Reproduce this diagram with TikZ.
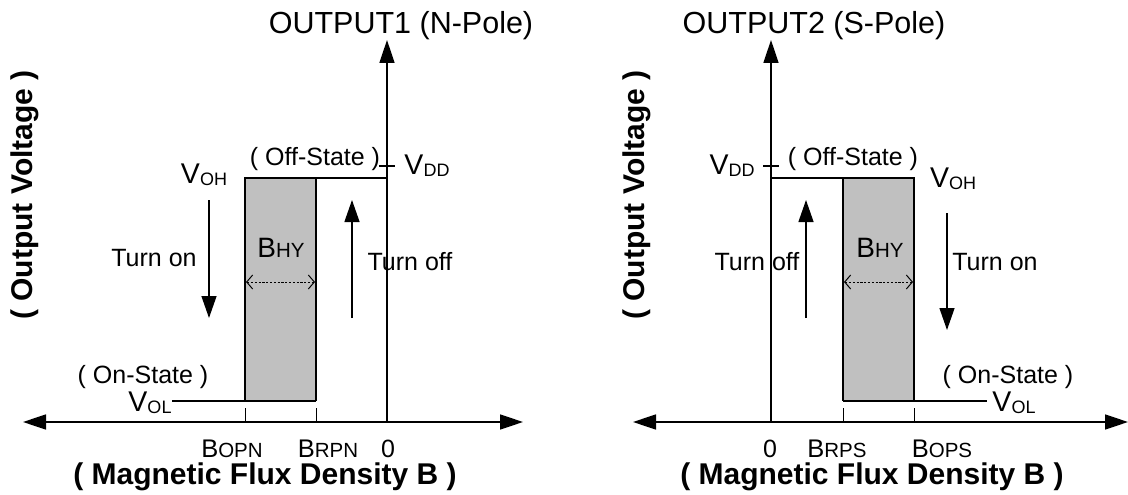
\documentclass[tikz,border=0pt]{standalone}
\usepackage{fontspec}
\setmainfont{Liberation Sans}
\usetikzlibrary{arrows.meta}
\definecolor{boxgray}{RGB}{192,192,192}
\newcommand{\fsz}[1]{\fontsize{#1}{#1}\selectfont}
\newcommand{\vlab}[2]{\fsz{28.5}V\raisebox{-2pt}{\fsz{18}#2}}
\newcommand{\blab}[1]{\fsz{25.5}B\fsz{20.5}#1}
\tikzset{
  axis/.style={line width=1.6pt, {Triangle[length=23pt,width=15pt]}-{Triangle[length=23pt,width=15pt]}},
  yaxis/.style={line width=1.6pt, -{Triangle[length=23pt,width=15pt]}},
  curve/.style={line width=2.5pt},
  tickline/.style={line width=1pt},
  move/.style={line width=1.3pt, -{Triangle[length=22pt,width=15pt]}},
  hyarrow/.style={line width=1pt, dash pattern=on 2.2pt off 1.6pt, {Straight Barb[length=6pt,width=14pt]}-{Straight Barb[length=6pt,width=14pt]}},
  lbl/.style={inner sep=0pt, font=\fsz{25}},
  big/.style={inner sep=0pt, font=\fsz{30}\bfseries},
  ttl/.style={inner sep=0pt, font=\fsz{30.5}},
}
\begin{document}
\begin{tikzpicture}[x=1pt,y=-1pt]
\useasboundingbox (0,0) rectangle (1128,495);
% ---------------- Left panel ----------------
\coordinate (LxL) at (23,422);
\coordinate (LxR) at (523,422);
\coordinate (Lo) at (387,422);
\coordinate (LyT) at (387,40);
\fill[boxgray] (245,178) rectangle (316,401);
\draw[line width=2.2pt] (316,178) -- (316,401);
\draw[curve] (172,401) -- (316,401);
\draw[curve] (245,401) -- (245,178) -- (387,178);
\draw[axis] (LxL) -- (LxR);
\draw[yaxis] (Lo) -- (LyT);
\draw[tickline] (245,408) -- (245,422);
\draw[tickline] (316,408) -- (316,422);
\draw[line width=1.6pt] (379,166) -- (395,166);
\coordinate (LdA) at (209,200);
\coordinate (LdB) at (209,318);
\draw[move] (LdA) -- (LdB);
\coordinate (LuA) at (352,318);
\coordinate (LuB) at (352,200);
\draw[move] (LuA) -- (LuB);
\coordinate (LhA) at (246,282);
\coordinate (LhB) at (315,282);
\draw[hyarrow] (LhA) -- (LhB);
\node[ttl] (t1) at (401,26) {OUTPUT1 (N-Pole)};
\node[big, rotate=90] (ov1) at (25,195) {( Output Voltage )};
\node[big] (mf1) at (265,477) {( Magnetic Flux Density B )};
\node[lbl] (off1) at (315,159) {( Off-State )};
\node[lbl] (on1) at (143,377) {( On-State )};
\node[lbl] (ton1) at (154,258) {Turn on};
\node[lbl] (toff1) at (410,262) {Turn off};
\node[inner sep=0pt] (voh1) at (204,175) {\vlab{V}{OH}};
\node[inner sep=0pt] (vdd1) at (427,166) {\vlab{V}{DD}};
\node[inner sep=0pt] (vol1) at (150,403) {\vlab{V}{OL}};
\node[inner sep=0pt] (bhy1) at (281,248) {\fsz{28}B\fsz{20.5}HY};
\node[inner sep=0pt] (bopn) at (232,449) {\blab{OPN}};
\node[inner sep=0pt] (brpn) at (328,449) {\blab{RPN}};
\node[lbl] (z1) at (388,449) {0};
% ---------------- Right panel ----------------
\coordinate (RxL) at (633,422);
\coordinate (RxR) at (1128,422);
\coordinate (Ro) at (771,422);
\coordinate (RyT) at (771,40);
\fill[boxgray] (843,178) rectangle (914,401);
\draw[line width=2.2pt] (843,178) -- (843,401);
\draw[curve] (771,178) -- (914,178) -- (914,401) -- (987,401);
\draw[curve] (843,401) -- (914,401);
\draw[axis] (RxL) -- (RxR);
\draw[yaxis] (Ro) -- (RyT);
\draw[tickline] (843,408) -- (843,422);
\draw[tickline] (914,408) -- (914,422);
\draw[line width=1.6pt] (763,166) -- (779,166);
\coordinate (RuA) at (806,318);
\coordinate (RuB) at (806,200);
\draw[move] (RuA) -- (RuB);
\coordinate (RdA) at (947,213);
\coordinate (RdB) at (947,330);
\draw[move] (RdA) -- (RdB);
\coordinate (RhA) at (844,282);
\coordinate (RhB) at (913,282);
\draw[hyarrow] (RhA) -- (RhB);
\node[ttl] (t2) at (814,26) {OUTPUT2 (S-Pole)};
\node[big, rotate=90] (ov2) at (637,195) {( Output Voltage )};
\node[big] (mf2) at (872,477) {( Magnetic Flux Density B )};
\node[lbl] (off2) at (853,159) {( Off-State )};
\node[lbl] (on2) at (1008,377) {( On-State )};
\node[lbl] (toff2) at (757,262) {Turn off};
\node[lbl] (ton2) at (995,262) {Turn on};
\node[inner sep=0pt] (voh2) at (953,179) {\vlab{V}{OH}};
\node[inner sep=0pt] (vdd2) at (732,166) {\vlab{V}{DD}};
\node[inner sep=0pt] (vol2) at (1014,403) {\vlab{V}{OL}};
\node[inner sep=0pt] (bhy2) at (880,248) {\fsz{28}B\fsz{20.5}HY};
\node[lbl] (z2) at (770,449) {0};
\node[inner sep=0pt] (brps) at (837,449) {\blab{RPS}};
\node[inner sep=0pt] (bops) at (942,449) {\blab{OPS}};
\end{tikzpicture}
\end{document}
